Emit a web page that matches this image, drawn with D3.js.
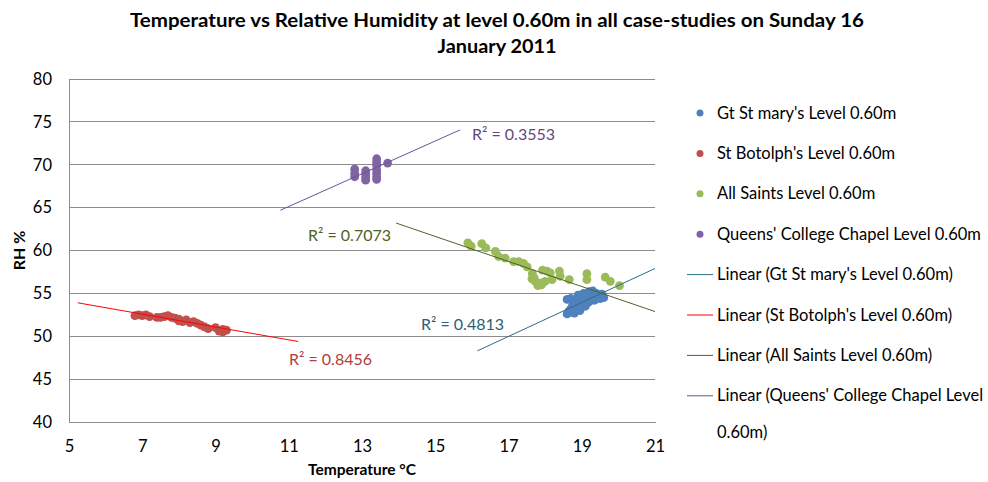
<!DOCTYPE html>
<html>
<head>
<meta charset="utf-8">
<script src="https://cdn.jsdelivr.net/npm/d3@7"></script>
<style>
  body { margin: 0; background: #fff; }
  text { font-family: Lato, "Open Sans", sans-serif; fill: #000; }
</style>
</head>
<body>
<svg id="chart" width="988" height="482"></svg>
<script>
// series names
const seriesNames = [
  "Gt St mary's Level 0.60m",
  "St Botolph's Level 0.60m",
  "All Saints Level 0.60m",
  "Queens' College Chapel Level 0.60m"
];

// [temperature, RH]
const gtMary = [
  [18.6, 52.6], [18.65, 52.9], [18.7, 53.2], [18.6, 54.3], [18.7, 54.4], [18.75, 53.6],
  [18.8, 52.7], [18.8, 54.0], [18.85, 53.3], [18.9, 54.3], [18.9, 54.8], [19.0, 53.8],
  [19.0, 54.5], [19.05, 55.0], [19.1, 54.2], [19.1, 53.5], [19.15, 54.8], [19.2, 55.2],
  [19.2, 54.0], [19.3, 54.6], [19.3, 55.3], [19.35, 54.2], [19.4, 55.0], [19.45, 54.7],
  [19.5, 54.4], [19.55, 54.9], [19.6, 54.5], [18.7, 52.8], [18.95, 53.0]
];
const stBotolph = [
  [6.8, 52.4], [6.9, 52.5], [7.0, 52.4], [7.1, 52.5], [7.2, 52.3], [7.4, 52.2],
  [7.5, 52.2], [7.6, 52.3], [7.7, 52.4], [7.8, 52.2], [7.9, 52.1], [8.0, 51.8],
  [8.0, 52.0], [8.1, 51.7], [8.2, 51.9], [8.3, 51.6], [8.4, 51.7], [8.5, 51.5],
  [8.6, 51.3], [8.7, 51.1], [8.8, 50.9], [9.0, 51.0], [9.1, 50.6], [9.2, 50.5],
  [9.2, 50.8], [9.3, 50.7]
];
const allSaints = [
  [15.89, 60.9], [15.98, 60.5], [16.27, 60.8], [16.38, 60.3], [16.64, 59.9], [16.73, 59.3],
  [16.91, 59.1], [17.14, 58.7], [17.28, 58.7], [17.41, 58.5], [17.51, 58.1], [17.64, 56.7],
  [17.73, 56.4], [17.87, 56.2], [17.93, 57.7], [18.0, 56.4], [18.05, 57.6], [18.14, 57.4],
  [18.19, 56.6], [18.39, 57.6], [18.41, 57.0], [18.66, 56.6], [19.14, 57.3], [19.14, 56.6],
  [19.64, 56.9], [19.78, 56.4], [20.03, 55.9], [17.8, 55.9], [17.9, 56.0], [17.7, 56.8],
  [17.65, 57.3]
];
const queens = [
  [12.8, 69.5], [12.8, 69.0], [12.8, 68.6],
  [13.1, 69.3], [13.1, 68.9], [13.1, 68.5], [13.1, 68.2],
  [13.4, 70.7], [13.4, 70.3], [13.4, 69.9], [13.4, 69.4], [13.4, 69.0], [13.4, 68.6], [13.4, 68.3],
  [13.7, 70.2]
];

// linear trend lines
const trendSlope = [1.98, -0.75, -1.46, 1.91];
const trendIntercept = [16.32, 57.83, 83.54, 44.12];
const trendFrom = [16.15, 5.24, 13.93, 10.77];
const trendTo = [21.0, 11.26, 21.0, 15.68];
const rSquared = ["0.4813", "0.8456", "0.7073", "0.3553"];

const xTicks = [5, 7, 9, 11, 13, 15, 17, 19, 21];
const yTicks = [40, 45, 50, 55, 60, 65, 70, 75, 80];

// styling
const markerColors = ["#4f81bd", "#c0504d", "#9bbb59", "#8064a2"];
const trendColors = ["#2e6c8c", "#ff0000", "#4f6228", "#6a52a0"];
const labelColors = ["#2a5f7a", "#b0403d", "#4f6228", "#5f497a"];
const labelPos = [[421, 330], [289, 365], [308, 241], [472, 140]];

const svg = d3.select('#chart');
const x = d3.scaleLinear().domain([5, 21]).range([69, 655]);
const y = d3.scaleLinear().domain([40, 80]).range([422, 79]);

// title
const title = svg.append('g').attr('font-weight', 'bold').attr('font-size', 18);
title.append('text').attr('x', 497).attr('y', 27).attr('text-anchor', 'middle')
  .attr('textLength', 734).attr('lengthAdjust', 'spacingAndGlyphs')
  .text('Temperature vs Relative Humidity at level 0.60m in all case-studies on Sunday 16');
title.append('text').attr('x', 497).attr('y', 53).attr('text-anchor', 'middle')
  .attr('textLength', 119).attr('lengthAdjust', 'spacingAndGlyphs')
  .text('January 2011');

// gridlines
svg.append('g').selectAll('line').data(yTicks.slice(1)).enter().append('line')
  .attr('x1', x(5)).attr('x2', x(21))
  .attr('y1', d => y(d)).attr('y2', d => y(d))
  .attr('stroke', '#8c8c8c').attr('stroke-width', 1).attr('shape-rendering', 'crispEdges');

// axes
const yAxis = svg.append('g').attr('transform', 'translate(' + x(5) + ',0)')
  .call(d3.axisLeft(y).tickValues(yTicks).tickSize(0).tickPadding(17));
const xAxis = svg.append('g').attr('transform', 'translate(0,' + y(40) + ')')
  .call(d3.axisBottom(x).tickValues(xTicks).tickSize(0).tickPadding(18));
[xAxis, yAxis].forEach(a => {
  a.select('.domain').attr('stroke', '#8c8c8c').attr('shape-rendering', 'crispEdges');
  a.selectAll('text').attr('font-family', 'Lato').attr('font-size', 16.5).attr('fill', '#000');
});

svg.append('text').attr('x', 362).attr('y', 475).attr('text-anchor', 'middle')
  .attr('font-weight', 'bold').attr('font-size', 15.5).text('Temperature °C');
svg.append('text').attr('transform', 'translate(25,' + y(60) + ') rotate(-90)')
  .attr('text-anchor', 'middle').attr('font-weight', 'bold').attr('font-size', 16).text('RH %');

// points
const allSeries = [gtMary, stBotolph, allSaints, queens];
allSeries.forEach((pts, i) => {
  svg.append('g').selectAll('circle').data(pts).enter().append('circle')
    .attr('cx', d => x(d[0])).attr('cy', d => y(d[1])).attr('r', 4.4)
    .attr('fill', markerColors[i]);
});

// trend lines
allSeries.forEach((pts, i) => {
  const f = t => trendIntercept[i] + trendSlope[i] * t;
  svg.append('line')
    .attr('x1', x(trendFrom[i])).attr('y1', y(f(trendFrom[i])))
    .attr('x2', x(trendTo[i])).attr('y2', y(f(trendTo[i])))
    .attr('stroke', trendColors[i]).attr('stroke-width', 1);
  svg.append('text').attr('x', labelPos[i][0]).attr('y', labelPos[i][1])
    .attr('font-size', 16).style('fill', labelColors[i])
    .text('R² = ' + rSquared[i]);
});

// legend
const legend = svg.append('g').attr('font-size', 16.5);
const rowY = i => 113 + i * 40.4;
seriesNames.forEach((name, i) => {
  legend.append('circle').attr('cx', 700).attr('cy', rowY(i)).attr('r', 3.5).attr('fill', markerColors[i]);
  legend.append('text').attr('x', 717).attr('y', rowY(i) + 5.5).text(name);
});
seriesNames.forEach((name, i) => {
  const ry = rowY(i + 4);
  legend.append('line').attr('x1', 687).attr('x2', 713).attr('y1', ry).attr('y2', ry)
    .attr('stroke', trendColors[i]).attr('stroke-width', 1);
  if (i === 3) {
    legend.append('text').attr('x', 717).attr('y', ry + 5.5).text("Linear (Queens' College Chapel Level");
    legend.append('text').attr('x', 717).attr('y', ry + 42).text('0.60m)');
  } else {
    legend.append('text').attr('x', 717).attr('y', ry + 5.5).text('Linear (' + name + ')');
  }
});
</script>
</body>
</html>
